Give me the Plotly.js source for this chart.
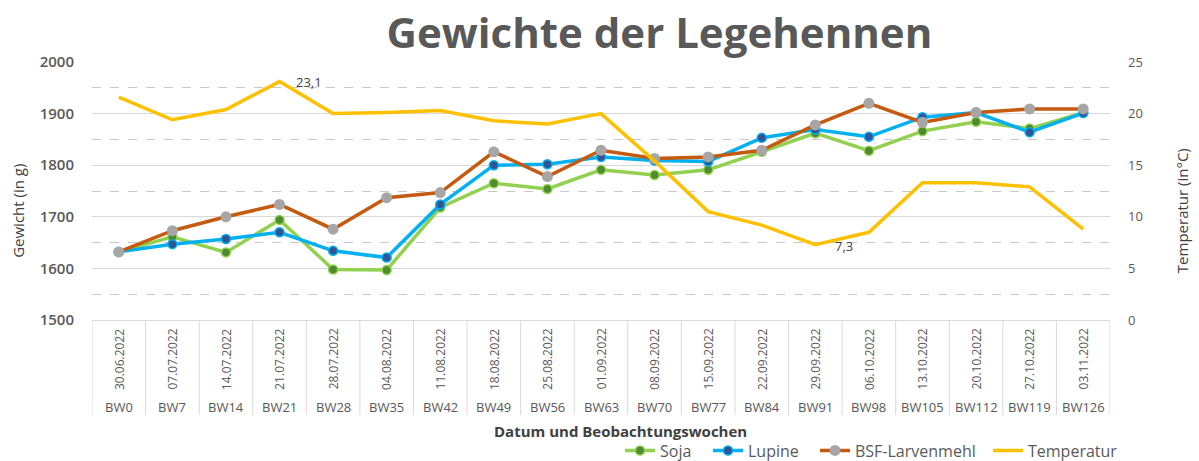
<!DOCTYPE html>
<html>
<head>
<meta charset="utf-8">
<script src="https://cdn.plot.ly/plotly-3.0.1.min.js"></script>
<style>html,body{margin:0;padding:0;background:#fff;}#chart{width:1199px;height:461px;}</style>
</head>
<body>
<div id="chart"></div>
<script>
var weeks = ['BW0','BW7','BW14','BW21','BW28','BW35','BW42','BW49','BW56','BW63','BW70','BW77','BW84','BW91','BW98','BW105','BW112','BW119','BW126'];
var dates = ['30.06.2022','07.07.2022','14.07.2022','21.07.2022','28.07.2022','04.08.2022','11.08.2022','18.08.2022','25.08.2022','01.09.2022','08.09.2022','15.09.2022','22.09.2022','29.09.2022','06.10.2022','13.10.2022','20.10.2022','27.10.2022','03.11.2022'];
var soja = [1632,1661,1631,1694,1598,1597,1718,1765,1754,1791,1781,1791,1826,1862,1828,1866,1884,1871,1902];
var lupine = [1632,1647,1657,1670,1634,1621,1724,1800,1802,1816,1809,1807,1853,1869,1855,1893,1902,1864,1901];
var bsf = [1632,1673,1700,1724,1676,1737,1747,1826,1778,1829,1813,1816,1829,1878,1920,1883,1902,1909,1909];
var temperatur = [21.6,19.4,20.4,23.1,20.0,20.1,20.3,19.3,19.0,20.0,15.4,10.5,9.2,7.3,8.5,13.3,13.3,12.9,8.8];

var FONT = 'Open Sans, DejaVu Sans, sans-serif';
var GREY = '#595959';

var traces = [
  {name:'Soja', legend:'legend', x:weeks, y:soja, type:'scatter', mode:'lines+markers',
   line:{color:'#92D050', width:3.5}, marker:{color:'#4E8A2E', size:9, line:{color:'#92D050', width:1.5}}},
  {name:'Lupine', legend:'legend2', x:weeks, y:lupine, type:'scatter', mode:'lines+markers',
   line:{color:'#00B0F0', width:3.5}, marker:{color:'#2F5597', size:9, line:{color:'#00B0F0', width:1.5}}},
  {name:'BSF-Larvenmehl', legend:'legend3', x:weeks, y:bsf, type:'scatter', mode:'lines+markers',
   line:{color:'#C55A11', width:3.5}, marker:{color:'#A6A6A6', size:11, line:{color:'#A6A6A6', width:0}}},
  {name:'Temperatur', legend:'legend4', x:weeks, y:temperatur, type:'scatter', mode:'lines', yaxis:'y2',
   line:{color:'#FFC000', width:3.5}}
];

var annotations = [];
var shapes = [];
for (var i = 0; i < weeks.length; i++) {
  annotations.push({x:weeks[i], xref:'x', y:-0.152, yref:'paper', text:dates[i], textangle:-90,
    showarrow:false, xanchor:'center', yanchor:'middle', font:{family:FONT, size:12, color:GREY}});
  annotations.push({x:weeks[i], xref:'x', y:-0.338, yref:'paper', text:weeks[i],
    showarrow:false, xanchor:'center', yanchor:'middle', font:{family:FONT, size:13, color:GREY}});
}
for (var j = 0; j <= weeks.length; j++) {
  shapes.push({type:'line', xref:'x', yref:'paper', x0:j-0.5, x1:j-0.5, y0:0, y1:-0.368,
    line:{color:'#D9D9D9', width:1}});
}
// data labels for extreme temperatures
var iMax = temperatur.indexOf(Math.max.apply(null, temperatur));
var iMin = temperatur.indexOf(Math.min.apply(null, temperatur));
[iMax, iMin].forEach(function(k, n){
  annotations.push({x:weeks[k], xref:'x', y:temperatur[k], yref:'y2',
    text:String(temperatur[k].toFixed(1)).replace('.', ','), showarrow:false,
    xanchor:'center', yanchor:'middle', xshift:29, yshift:(n===0?0:-1),
    font:{family:FONT, size:13, color:'#404040'}});
});
// axis titles
annotations.push({xref:'paper', yref:'paper', x:-0.0727, y:0.423, text:'Gewicht (in g)', textangle:-90,
  showarrow:false, xanchor:'center', yanchor:'middle', font:{family:FONT, size:15, color:'#404040'}});
annotations.push({xref:'paper', yref:'paper', x:1.071, y:0.423, text:'Temperatur (in°C)', textangle:-90,
  showarrow:false, xanchor:'center', yanchor:'middle', font:{family:FONT, size:15, color:'#404040'}});
annotations.push({xref:'paper', yref:'paper', x:0.519, y:-0.43, text:'Datum und Beobachtungswochen',
  showarrow:false, xanchor:'center', yanchor:'middle', font:{family:FONT, size:15, color:'#404040', weight:'bold'}});

function leg(px) {
  return {orientation:'h', x:(px - 92) / 1018, xanchor:'left', y:-0.506, yanchor:'middle',
    font:{family:FONT, size:16, color:GREY}, bgcolor:'rgba(0,0,0,0)', borderwidth:0};
}

var layout = {
  width:1199, height:461,
  margin:{l:92, r:89, t:62, b:141, autoexpand:false},
  paper_bgcolor:'#ffffff', plot_bgcolor:'#ffffff',
  font:{family:FONT, color:GREY},
  title:{text:'Gewichte der Legehennen', xref:'container', yref:'container', x:0.55, y:0.928,
    xanchor:'center', yanchor:'middle', font:{family:FONT, size:42, color:'#595959', weight:'bold'}},
  xaxis:{type:'category', range:[-0.5, 18.5], showticklabels:false, ticks:'', showgrid:false,
    showline:true, linecolor:'#D9D9D9', linewidth:1, zeroline:false, fixedrange:true},
  yaxis:{range:[1500, 2000], dtick:100, tick0:1500, showgrid:true, gridcolor:'#D9D9D9', gridwidth:1,
    zeroline:false, showline:false, ticks:'', ticklabelstandoff:17,
    tickfont:{family:FONT, size:15, color:GREY, weight:600},
    minor:{dtick:50, tick0:1500, showgrid:true, gridcolor:'#C8C8C8', griddash:'dash', gridwidth:1, ticks:''}},
  yaxis2:{range:[0, 25], dtick:5, overlaying:'y', side:'right', showgrid:false, zeroline:false,
    showline:false, ticks:'', ticklabelstandoff:17, tickfont:{family:FONT, size:13, color:GREY}},
  showlegend:true,
  legend:leg(620), legend2:leg(708), legend3:leg(815), legend4:leg(988),
  annotations:annotations,
  shapes:shapes
};

Plotly.newPlot('chart', traces, layout, {displayModeBar:false, staticPlot:true});
</script>
</body>
</html>
